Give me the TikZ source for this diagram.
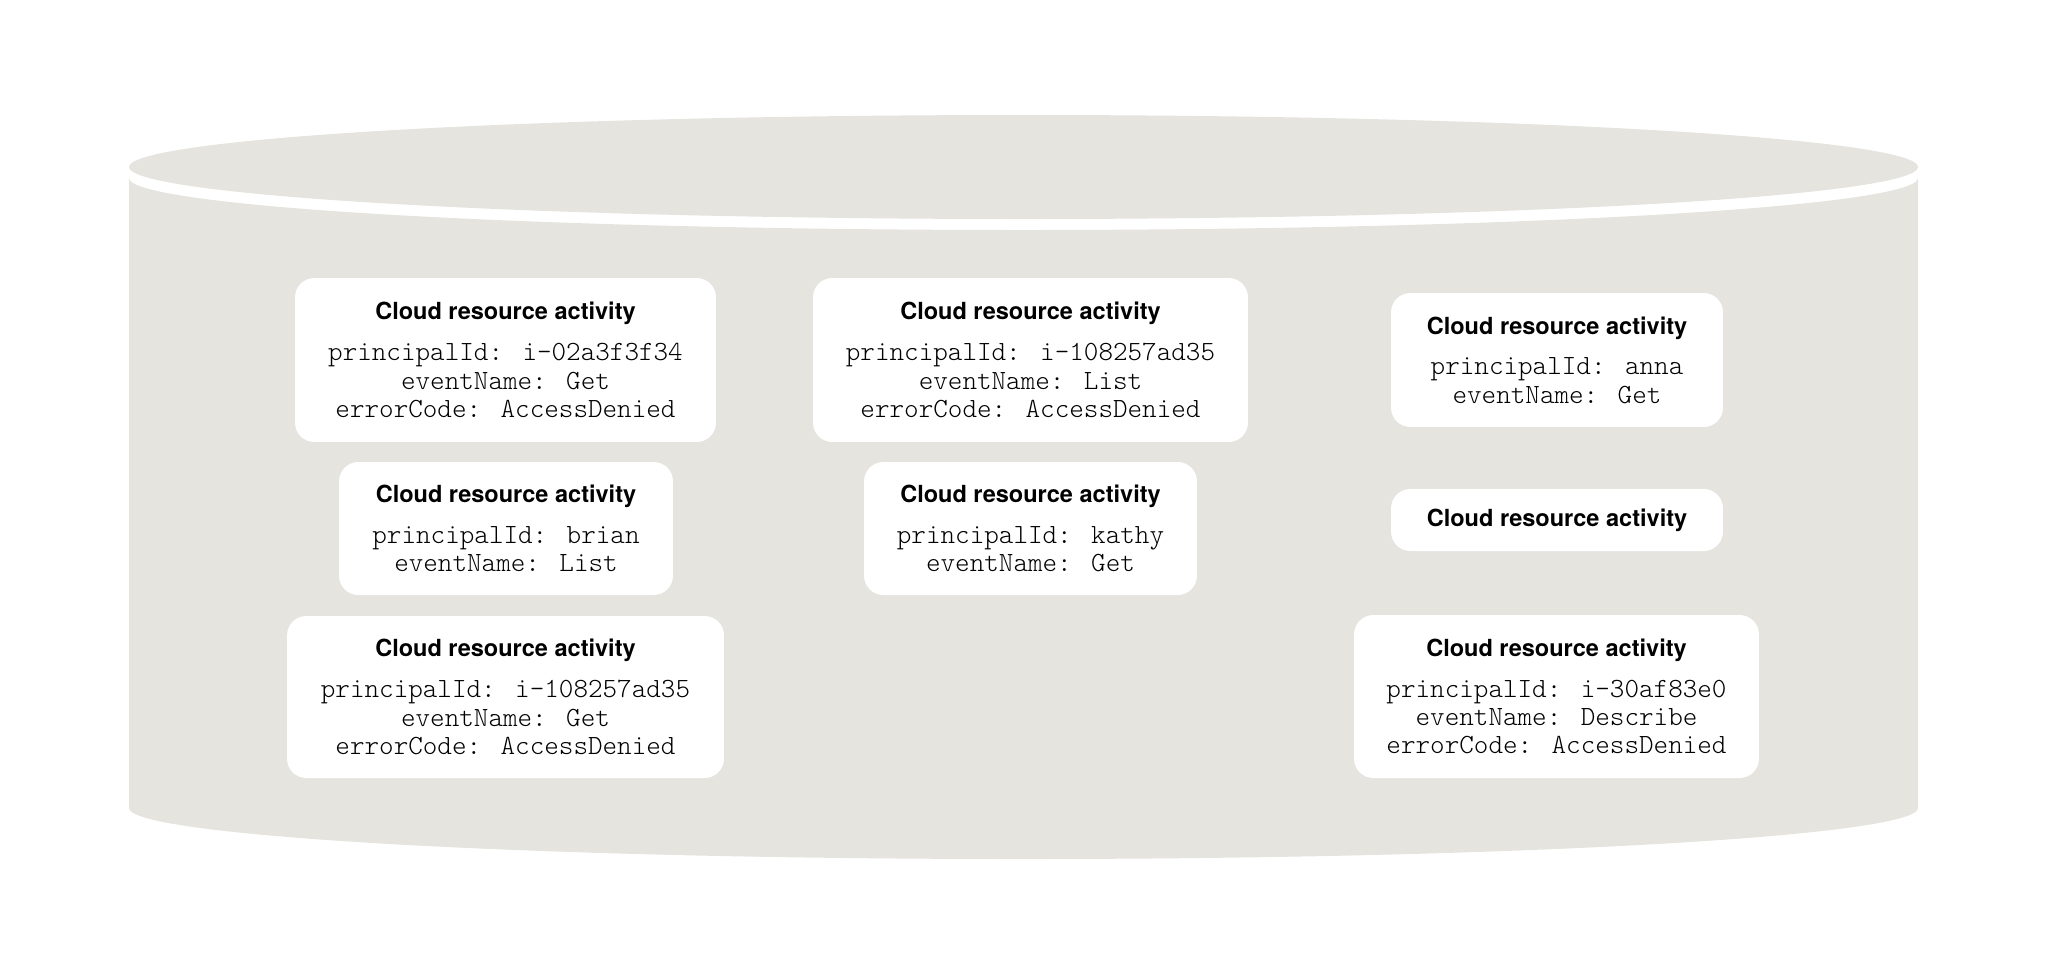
\documentclass[tikz,border=0pt]{standalone}
\usepackage{fontspec}
\newfontfamily\monofont{lmmonolt10-regular.otf}
\newfontfamily\titlefont{TeX Gyre Heros}
\definecolor{cylgray}{RGB}{229,228,223}
\newcommand{\cratitle}{{\titlefont\bfseries\fontsize{13.4}{16.2}\selectfont Cloud resource activity}}
\tikzset{
  activity/.style={fill=white, rounded corners=11pt, align=center, inner sep=0pt,
    font=\monofont\fontsize{15.8}{16.2}\selectfont},
}

\begin{document}
\begin{tikzpicture}[x=0.02cm,y=-0.02cm] % pixel grid, y downwards
   \useasboundingbox (0,0) rectangle (2048,975);
   % the store
   \fill[cylgray] (129,178) arc[start angle=180, end angle=0, x radius=894.5, y radius=52]
      -- (1918,808) arc[start angle=0, end angle=180, x radius=894.5, y radius=51] -- cycle;
   \fill[cylgray] (1023.5,167) ellipse[x radius=894.5, y radius=52];
   % left column
   \node[activity, minimum width=8.42cm, minimum height=3.28cm] (act1) at (505.5,360)
      {\cratitle\\[7pt]principalId: i-02a3f3f34\\eventName: Get\\errorCode: AccessDenied};
   \node[activity, minimum width=6.68cm, minimum height=2.66cm] (act2) at (506,528.5)
      {\cratitle\\[7pt]principalId: brian\\eventName: List};
   \node[activity, minimum width=8.74cm, minimum height=3.24cm] (act3) at (505.5,697)
      {\cratitle\\[7pt]principalId: i-108257ad35\\eventName: Get\\errorCode: AccessDenied};
   % middle column
   \node[activity, minimum width=8.70cm, minimum height=3.28cm] (act4) at (1030.5,360)
      {\cratitle\\[7pt]principalId: i-108257ad35\\eventName: List\\errorCode: AccessDenied};
   \node[activity, minimum width=6.66cm, minimum height=2.66cm] (act5) at (1030.5,528.5)
      {\cratitle\\[7pt]principalId: kathy\\eventName: Get};
   % right column
   \node[activity, minimum width=6.64cm, minimum height=2.68cm] (act6) at (1557,360)
      {\cratitle\\[7pt]principalId: anna\\eventName: Get};
   \node[activity, minimum width=6.64cm, minimum height=1.24cm] (act7) at (1557,520)
      {\cratitle};
   \node[activity, minimum width=8.10cm, minimum height=3.26cm] (act8) at (1556.5,696.5)
      {\cratitle\\[7pt]principalId: i-30af83e0\\eventName: Describe\\errorCode: AccessDenied};
\end{tikzpicture}
\end{document}
